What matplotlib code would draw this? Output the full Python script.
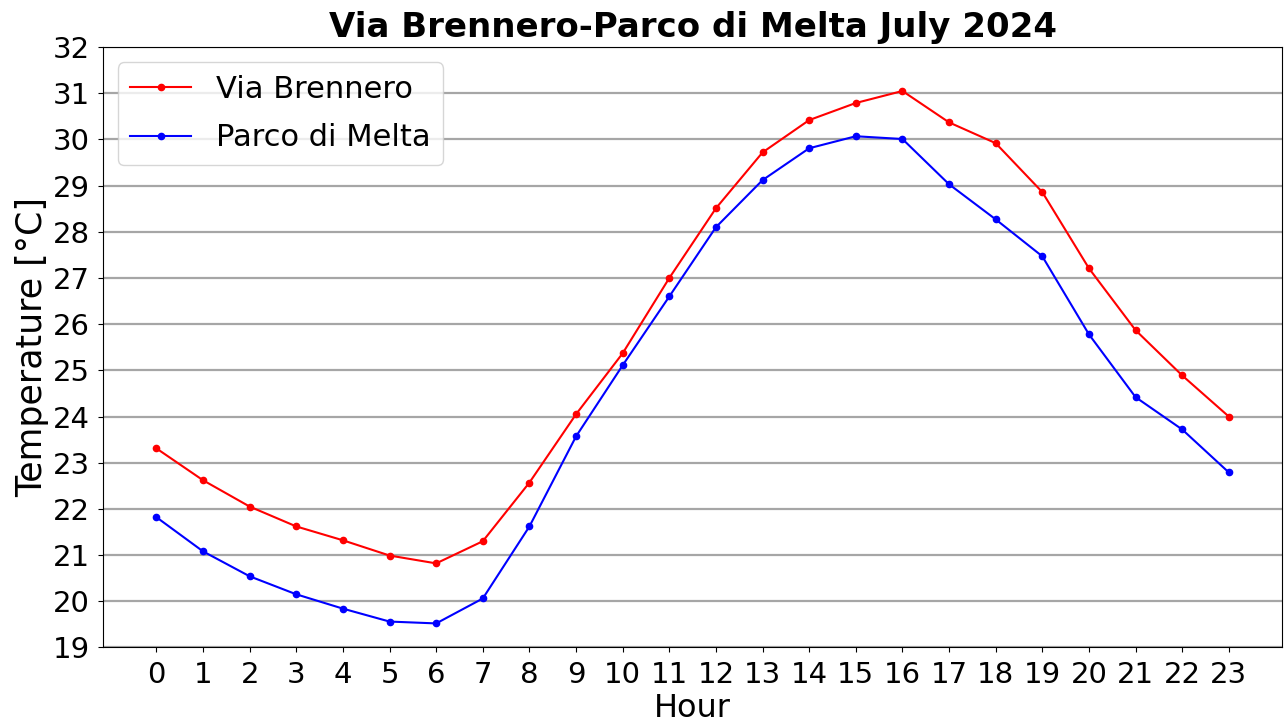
import numpy as np
import matplotlib.pyplot as plt

hours = np.arange(24)
brennero = [23.31, 22.62, 22.05, 21.62, 21.32, 20.99, 20.82, 21.30, 22.57, 24.05,
            25.37, 27.00, 28.51, 29.72, 30.42, 30.79, 31.05, 30.37, 29.92, 28.86,
            27.21, 25.87, 24.89, 24.00]
melta = [21.82, 21.08, 20.54, 20.15, 19.84, 19.56, 19.52, 20.06, 21.62, 23.57,
         25.11, 26.60, 28.10, 29.12, 29.81, 30.07, 30.01, 29.03, 28.27, 27.47,
         25.78, 24.42, 23.72, 22.79]

fig, ax = plt.subplots(figsize=(12.85, 7.25), dpi=100)
ax.plot(hours, brennero, 'o-', color='red', linewidth=1.5, markersize=4.5, label='Via Brennero')
ax.plot(hours, melta, 'o-', color='blue', linewidth=1.5, markersize=4.5, label='Parco di Melta')

ax.set_ylim(19, 32)
ax.set_yticks(np.arange(19, 33, 1))
ax.set_xticks(hours)
ax.tick_params(labelsize=21, pad=6)
ax.yaxis.grid(True, which='major', color='gray', linewidth=1.6, alpha=0.7)
ax.set_axisbelow(True)

ax.set_xlabel('Hour', fontsize=23, labelpad=3)
ax.set_ylabel('Temperature [°C]', fontsize=25, labelpad=2)
ax.set_title('Via Brennero-Parco di Melta July 2024', fontsize=24.5, fontweight='bold', pad=7)
ax.legend(loc='upper left', fontsize=22, borderaxespad=0.5, labelspacing=0.65)

fig.subplots_adjust(left=0.08, right=0.998, top=0.935, bottom=0.107)
plt.savefig('out.png')
